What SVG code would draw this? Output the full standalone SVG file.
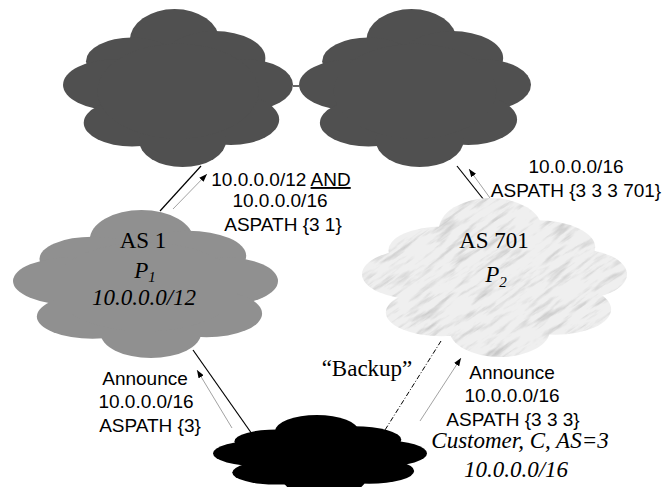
<svg xmlns="http://www.w3.org/2000/svg" width="667" height="487" viewBox="0 0 667 487">
<style>
.sans{font-family:"Liberation Sans",Arial,sans-serif;font-size:19px;fill:#000;text-anchor:middle}
.serif{font-family:"Liberation Serif","Times New Roman",serif;font-size:23px;fill:#000;text-anchor:middle}
.it{font-style:italic}
.link{stroke:#000;stroke-width:1.2;fill:none}
.dashed{stroke-dasharray:5 2 1 2;stroke-width:1}
.ann{stroke:#8a8a8a;stroke-width:0.8;fill:none;marker-end:url(#ah)}
</style>
<defs>
<symbol id="cloud" viewBox="0 0 100 100" preserveAspectRatio="none">
<ellipse cx="48.5" cy="20" rx="19.5" ry="20"/>
<ellipse cx="30" cy="33" rx="20" ry="15"/>
<ellipse cx="66" cy="31" rx="22" ry="17"/>
<ellipse cx="22" cy="48" rx="22" ry="16"/>
<ellipse cx="80" cy="48" rx="20" ry="16"/>
<ellipse cx="30" cy="72" rx="21" ry="15"/>
<ellipse cx="73" cy="70" rx="21" ry="16"/>
<ellipse cx="52" cy="83" rx="19" ry="17"/>
<ellipse cx="50" cy="52" rx="35" ry="30"/>
</symbol>
<marker id="ah" markerWidth="8" markerHeight="6" refX="8" refY="3" orient="auto" markerUnits="userSpaceOnUse">
<path d="M0,0 L8,3 L0,6 z" fill="#000"/>
</marker>
<filter id="marble" x="0" y="0" width="1" height="1">
<feTurbulence type="fractalNoise" baseFrequency="0.03 0.18" numOctaves="4" seed="7" result="n"/>
<feColorMatrix in="n" type="matrix" values="0 0 0 0 0.55  0 0 0 0 0.55  0 0 0 0 0.55  2.6 0 0 0 -1.3" result="s"/>
<feComposite in="s" in2="SourceGraphic" operator="in"/>
</filter>
<mask id="m701" maskUnits="userSpaceOnUse" x="0" y="0" width="667" height="487">
<use href="#cloud" x="362" y="198" width="265" height="159" fill="#fff"/>
</mask>
</defs>

<g id="connectors">
<line class="link" x1="293" y1="86" x2="299" y2="86"/>
<line class="link" x1="201" y1="166" x2="160" y2="211"/>
<line class="ann" x1="173" y1="209" x2="207" y2="174"/>
<line class="link" x1="457" y1="166" x2="484" y2="200"/>
<line class="ann" x1="490" y1="198" x2="469" y2="169"/>
<line class="link" x1="193" y1="350" x2="252" y2="434"/>
<line class="ann" x1="232" y1="428" x2="197" y2="370"/>
<line class="link dashed" x1="441" y1="341" x2="385" y2="430"/>
<line class="ann" x1="420" y1="421" x2="461" y2="358"/>
</g>

<g id="isp-left">
<use href="#cloud" x="63" y="9" width="230" height="158" fill="#505050"/>
</g>
<g id="isp-right">
<use href="#cloud" x="299" y="9" width="232" height="158" fill="#505050"/>
</g>

<g id="as1">
<use href="#cloud" x="13" y="210" width="265" height="148" fill="#909090"/>
<text class="serif" x="143" y="248">AS 1</text>
<text class="serif it" x="145" y="278">P<tspan font-size="15" dy="4">1</tspan></text>
<text class="serif it" x="144" y="305">10.0.0.0/12</text>
</g>

<g id="as701">
<g mask="url(#m701)">
<rect x="362" y="198" width="265" height="159" fill="#efefef"/>
<rect x="294" y="77" width="400" height="400" fill="#fff" filter="url(#marble)" transform="rotate(-35 494 277)"/>
</g>
<text class="serif" x="494" y="248">AS 701</text>
<text class="serif it" x="496" y="282">P<tspan font-size="15" dy="5">2</tspan></text>
</g>

<g id="customer">
<use href="#cloud" x="213" y="415" width="214" height="80" fill="#000"/>
</g>

<g id="labels">
<text class="sans" x="281" y="186">10.0.0.0/12 <tspan text-decoration="underline">AND</tspan></text>
<text class="sans" x="280" y="207">10.0.0.0/16</text>
<text class="sans" x="283" y="231">ASPATH {3 1}</text>
<text class="sans" x="576" y="173">10.0.0.0/16</text>
<text class="sans" x="576" y="197">ASPATH {3 3 3 701}</text>
<text class="sans" x="145" y="385">Announce</text>
<text class="sans" x="146" y="408">10.0.0.0/16</text>
<text class="sans" x="150" y="432">ASPATH {3}</text>
<text class="serif" x="367" y="376">“Backup”</text>
<text class="sans" x="512" y="379">Announce</text>
<text class="sans" x="512" y="402">10.0.0.0/16</text>
<text class="sans" x="513" y="426">ASPATH {3 3 3}</text>
<text class="serif it" x="520" y="448" font-size="22">Customer, C, AS=3</text>
<text class="serif it" x="516" y="477" font-size="22">10.0.0.0/16</text>
</g>
</svg>
